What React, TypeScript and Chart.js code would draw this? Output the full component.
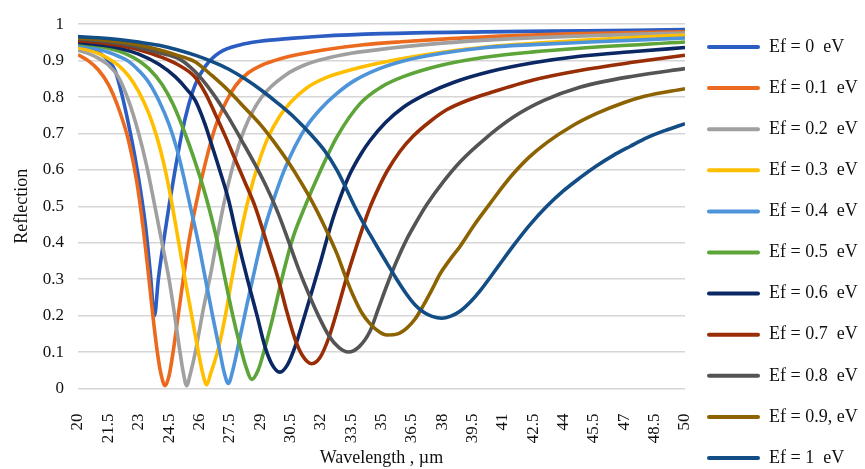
import React, { useEffect, useRef } from "react";
import { Chart, registerables } from "chart.js";

Chart.register(...registerables);

// [wavelength µm, reflection]
const EF0: [number, number][] = [
  [20, 0.945], [20.5, 0.937], [21, 0.924], [21.5, 0.9], [21.85, 0.87], [22.2, 0.8], [22.5, 0.725],
  [22.8, 0.64], [23.1, 0.54], [23.35, 0.44], [23.57, 0.32], [23.78, 0.2], [23.97, 0.3], [24.22, 0.4],
  [24.51, 0.505], [24.8, 0.6], [25.13, 0.7], [25.45, 0.775], [25.8, 0.835], [26.3, 0.885], [27.0, 0.922],
  [28, 0.943], [29, 0.953], [30.5, 0.961], [32, 0.967], [35, 0.974], [40, 0.979], [45, 0.982], [50, 0.985],
];
const EF1: [number, number][] = [
  [20, 0.916], [20.5, 0.9], [21, 0.875], [21.5, 0.835], [22, 0.77], [22.5, 0.68], [22.9, 0.57],
  [23.2, 0.45], [23.45, 0.33], [23.7, 0.2], [23.92, 0.1], [24.1, 0.04], [24.3, 0.008], [24.5, 0.035],
  [24.7, 0.1], [24.95, 0.2], [25.2, 0.3], [25.5, 0.41], [25.85, 0.51], [26.3, 0.62], [26.77, 0.715],
  [27.3, 0.785], [27.8, 0.832], [28.4, 0.866], [29.1, 0.888], [30, 0.905], [31, 0.918], [32.2, 0.93],
  [34, 0.943], [36, 0.952], [38, 0.959], [40.4, 0.966], [45, 0.974], [50, 0.979],
];
const EF2: [number, number][] = [
  [20, 0.928], [20.5, 0.92], [21, 0.907], [21.5, 0.888], [22, 0.855], [22.5, 0.79], [23, 0.7],
  [23.4, 0.61], [23.8, 0.5], [24.15, 0.4], [24.5, 0.3], [24.78, 0.2], [25.04, 0.1], [25.2, 0.045],
  [25.37, 0.008], [25.55, 0.04], [25.8, 0.1], [26.2, 0.22], [26.6, 0.327], [26.9, 0.42], [27.2, 0.505],
  [27.7, 0.62], [28.25, 0.715], [29.08, 0.8], [30.3, 0.862], [31.2, 0.888], [32.2, 0.905], [33.5, 0.92],
  [35.4, 0.934], [38, 0.948], [40.4, 0.957], [45, 0.968], [50, 0.976],
];
const EF3: [number, number][] = [
  [20, 0.936], [20.5, 0.929], [21, 0.92], [21.5, 0.906], [22, 0.887], [22.5, 0.858], [23, 0.815],
  [23.5, 0.755], [23.9, 0.69], [24.25, 0.615], [24.6, 0.52], [24.95, 0.41], [25.29, 0.3], [25.62, 0.2],
  [25.95, 0.1], [26.15, 0.045], [26.36, 0.01], [26.55, 0.04], [26.94, 0.11], [27.3, 0.205], [27.6, 0.3],
  [28.0, 0.415], [28.42, 0.52], [28.9, 0.615], [29.4, 0.69], [30, 0.75], [30.5, 0.785], [31.3, 0.825],
  [32.2, 0.852], [33.5, 0.875], [35.4, 0.899], [38, 0.923], [40.4, 0.939], [45.3, 0.957], [50, 0.97],
];
const EF4: [number, number][] = [
  [20, 0.943], [20.5, 0.938], [21, 0.931], [21.5, 0.923], [22, 0.912], [22.5, 0.898], [23, 0.873],
  [23.5, 0.84], [24, 0.79], [24.5, 0.725], [24.9, 0.655], [25.25, 0.575], [25.55, 0.5], [25.95, 0.4],
  [26.3, 0.3], [26.65, 0.2], [27.0, 0.105], [27.22, 0.045], [27.43, 0.014], [27.65, 0.05], [28.0, 0.139],
  [28.35, 0.23], [28.75, 0.33], [29.2, 0.435], [29.74, 0.53], [30.2, 0.6], [30.73, 0.665], [31.3, 0.72],
  [32.0, 0.768], [32.8, 0.81], [33.6, 0.843], [34.8, 0.876], [36.08, 0.899], [38, 0.92], [40.2, 0.936],
  [42.5, 0.944], [45.3, 0.951], [50, 0.962],
];
const EF5: [number, number][] = [
  [20, 0.947], [21, 0.94], [22, 0.926], [22.5, 0.915], [23, 0.9], [23.5, 0.878], [24.14, 0.836],
  [24.7, 0.78], [25.29, 0.7], [25.8, 0.62], [26.2, 0.55], [26.5, 0.49], [26.9, 0.4], [27.27, 0.3],
  [27.65, 0.2], [28.0, 0.12], [28.3, 0.06], [28.59, 0.025], [28.9, 0.05], [29.24, 0.112], [29.65, 0.2],
  [30.07, 0.3], [30.6, 0.41], [31.22, 0.5], [31.96, 0.595], [32.79, 0.69], [33.94, 0.782], [35, 0.828],
  [36.08, 0.856], [38, 0.888], [40.2, 0.91], [42.5, 0.924], [44.8, 0.934], [50, 0.951],
];
const EF6: [number, number][] = [
  [20, 0.95], [21, 0.944], [22, 0.935], [23, 0.918], [24, 0.89], [24.8, 0.856], [25.4, 0.82],
  [25.8, 0.79], [26.28, 0.725], [26.6, 0.67], [27, 0.6], [27.43, 0.52], [27.8, 0.43], [28.1, 0.36],
  [28.42, 0.29], [28.85, 0.2], [29.24, 0.115], [29.6, 0.065], [29.98, 0.045], [30.35, 0.065],
  [30.73, 0.115], [31.15, 0.19], [31.55, 0.265], [32.0, 0.35], [32.3, 0.41], [32.62, 0.47], [33.0, 0.53],
  [33.45, 0.59], [34.0, 0.645], [34.43, 0.68], [35.2, 0.73], [36.08, 0.772], [37.2, 0.808], [38.55, 0.84],
  [40.37, 0.87], [42.5, 0.894], [44.8, 0.912], [47.5, 0.925], [50, 0.936],
];
const EF7: [number, number][] = [
  [20, 0.955], [21, 0.95], [22, 0.942], [23, 0.93], [24, 0.912], [24.9, 0.89], [25.78, 0.855],
  [26.3, 0.81], [26.77, 0.755], [27.3, 0.69], [27.76, 0.63], [28.3, 0.56], [28.75, 0.5], [29.3, 0.405],
  [29.9, 0.3], [30.3, 0.215], [30.73, 0.135], [31.1, 0.09], [31.55, 0.068], [31.96, 0.085], [32.4, 0.14],
  [32.79, 0.21], [33.2, 0.29], [33.6, 0.362], [34.0, 0.43], [34.43, 0.497], [34.85, 0.55], [35.26, 0.595],
  [35.9, 0.65], [36.57, 0.693], [37.4, 0.733], [38.22, 0.765], [39.3, 0.792], [40.37, 0.812],
  [42.5, 0.847], [44.8, 0.873], [47.5, 0.896], [50, 0.915],
];
const EF8: [number, number][] = [
  [20, 0.96], [21, 0.955], [22, 0.948], [23, 0.937], [24, 0.922], [25, 0.905], [25.78, 0.87],
  [26.6, 0.815], [27.43, 0.745], [28.1, 0.68], [28.75, 0.615], [29.3, 0.555], [29.9, 0.48], [30.4, 0.405],
  [30.89, 0.33], [31.4, 0.26], [31.88, 0.2], [32.4, 0.145], [32.9, 0.112], [33.36, 0.1], [33.9, 0.115],
  [34.43, 0.157], [34.85, 0.22], [35.26, 0.282], [35.75, 0.35], [36.25, 0.41], [36.75, 0.46],
  [37.24, 0.505], [38.06, 0.568], [38.88, 0.622], [40.0, 0.68], [41.52, 0.745], [43, 0.79], [44.8, 0.827],
  [47.5, 0.858], [50, 0.878],
];
const EF9: [number, number][] = [
  [20, 0.962], [21, 0.958], [22, 0.952], [23, 0.943], [24, 0.93], [25, 0.913], [25.78, 0.897],
  [26.6, 0.86], [27.43, 0.818], [28.25, 0.77], [29.08, 0.72], [29.75, 0.672], [30.4, 0.621], [31.0, 0.568],
  [31.55, 0.515], [32.1, 0.455], [32.79, 0.371], [33.2, 0.31], [33.6, 0.255], [34.0, 0.21], [34.43, 0.178],
  [34.9, 0.155], [35.26, 0.147], [35.8, 0.15], [36.25, 0.166], [36.65, 0.19], [37.07, 0.228], [37.5, 0.272],
  [37.9, 0.315], [38.4, 0.355], [38.88, 0.39], [39.6, 0.45], [40.37, 0.508], [41.0, 0.555], [41.52, 0.59],
  [42.3, 0.635], [43.17, 0.675], [44.4, 0.72], [45.64, 0.755], [47, 0.785], [48, 0.802], [50, 0.823],
];
const EF10: [number, number][] = [
  [20, 0.966], [21, 0.963], [22, 0.958], [23, 0.951], [24, 0.942], [24.9, 0.93], [25.78, 0.915],
  [26.6, 0.898], [27.43, 0.877], [28.25, 0.85], [29.08, 0.818], [29.9, 0.782], [30.73, 0.742], [31.5, 0.698],
  [32.2, 0.652], [32.79, 0.6], [33.2, 0.555], [33.6, 0.508], [34.0, 0.465], [34.43, 0.423], [34.85, 0.383],
  [35.26, 0.345], [35.75, 0.3], [36.25, 0.258], [36.65, 0.23], [37.07, 0.21], [37.5, 0.198], [37.98, 0.193],
  [38.4, 0.198], [38.88, 0.212], [39.4, 0.238], [39.87, 0.268], [40.7, 0.33], [41.52, 0.392], [42.3, 0.447],
  [43.17, 0.5], [44.0, 0.543], [44.8, 0.578], [45.6, 0.61], [46.46, 0.64], [47.3, 0.665], [48.1, 0.688],
  [49, 0.708], [50, 0.727],
];

const SERIES = [EF0, EF1, EF2, EF3, EF4, EF5, EF6, EF7, EF8, EF9, EF10];
const LABELS = [
  "Ef = 0  eV", "Ef = 0.1  eV", "Ef = 0.2  eV", "Ef = 0.3  eV", "Ef = 0.4  eV", "Ef = 0.5  eV",
  "Ef = 0.6  eV", "Ef = 0.7  eV", "Ef = 0.8  eV", "Ef = 0.9, eV", "Ef = 1  eV",
];
const COLORS = [
  "#2B5DC3", "#EB6A1E", "#A0A0A0", "#FFBF00", "#4D94DA", "#5DA538",
  "#0B2864", "#992E06", "#545454", "#8C6300", "#134D85",
];

const X_MIN = 20;
const X_MAX = 50;
const X_STEP = 1.5;
const Y_MIN = 0;
const Y_MAX = 1;
const Y_STEP = 0.1;

const SERIF = '"Liberation Serif", "Times New Roman", serif';

const sideLegend = {
  id: "sideLegend",
  afterDraw(chart: any) {
    const ctx = chart.ctx;
    const area = chart.chartArea;
    const x0 = area.right + 24;
    const top = 47;
    const step = 41.1;
    ctx.save();
    chart.data.datasets.forEach((ds: any, i: number) => {
      const y = top + i * step;
      ctx.strokeStyle = ds.borderColor;
      ctx.lineWidth = 4;
      ctx.lineCap = "round";
      ctx.beginPath();
      ctx.moveTo(x0, y);
      ctx.lineTo(x0 + 49, y);
      ctx.stroke();
      ctx.fillStyle = "#111";
      ctx.font = `18px ${SERIF}`;
      ctx.textBaseline = "middle";
      ctx.textAlign = "left";
      ctx.fillText(ds.label, x0 + 60, y);
    });
    ctx.restore();
  },
};

export default function App() {
  const ref = useRef<HTMLCanvasElement | null>(null);
  useEffect(() => {
    if (!ref.current) return;
    const n = SERIES.length;
    const chart = new Chart(ref.current, {
      type: "line",
      data: {
        datasets: SERIES.map((s, i) => ({
          label: LABELS[i],
          data: s.map(([x, y]) => ({ x, y })),
          borderColor: COLORS[i],
          backgroundColor: COLORS[i],
          borderWidth: 3.6,
          pointRadius: 0,
          cubicInterpolationMode: "monotone" as const,
          fill: false,
          order: n - i,
        })),
      },
      options: {
        responsive: false,
        animation: false,
        layout: { padding: { left: 0, right: 180, top: 16, bottom: 0 } },
        plugins: { legend: { display: false }, tooltip: { enabled: false } },
        scales: {
          x: {
            type: "linear",
            min: X_MIN,
            max: X_MAX,
            grid: { display: false },
            border: { display: false },
            ticks: {
              stepSize: X_STEP,
              autoSkip: false,
              minRotation: 90,
              maxRotation: 90,
              padding: 17,
              color: "#111",
              font: { family: SERIF, size: 17 },
              callback: (v: any) => String(Math.round(Number(v) * 10) / 10),
            },
            title: {
              display: true,
              text: "Wavelength , µm",
              color: "#111",
              font: { family: SERIF, size: 18 },
              padding: { top: 0, bottom: 0 },
            },
            afterFit: (scale: any) => {
              scale.height = 80.5;
            },
          },
          y: {
            min: Y_MIN,
            max: Y_MAX,
            grid: { color: "#d6d6d6", lineWidth: 1.5, drawTicks: false },
            border: { display: false },
            ticks: {
              stepSize: Y_STEP,
              padding: 14,
              color: "#111",
              font: { family: SERIF, size: 17 },
              callback: (v: any) => String(Math.round(Number(v) * 10) / 10),
            },
            title: {
              display: true,
              text: "Reflection",
              color: "#111",
              font: { family: SERIF, size: 18 },
              padding: { top: 11, bottom: 0 },
            },
            afterFit: (scale: any) => {
              scale.width = 78;
            },
          },
        },
      },
      plugins: [sideLegend],
    });
    return () => chart.destroy();
  }, []);
  return (
    <div style={{ position: "absolute", left: 0, top: 0, width: 865, height: 469, background: "#fff" }}>
      <canvas ref={ref} width={865} height={469} />
    </div>
  );
}
